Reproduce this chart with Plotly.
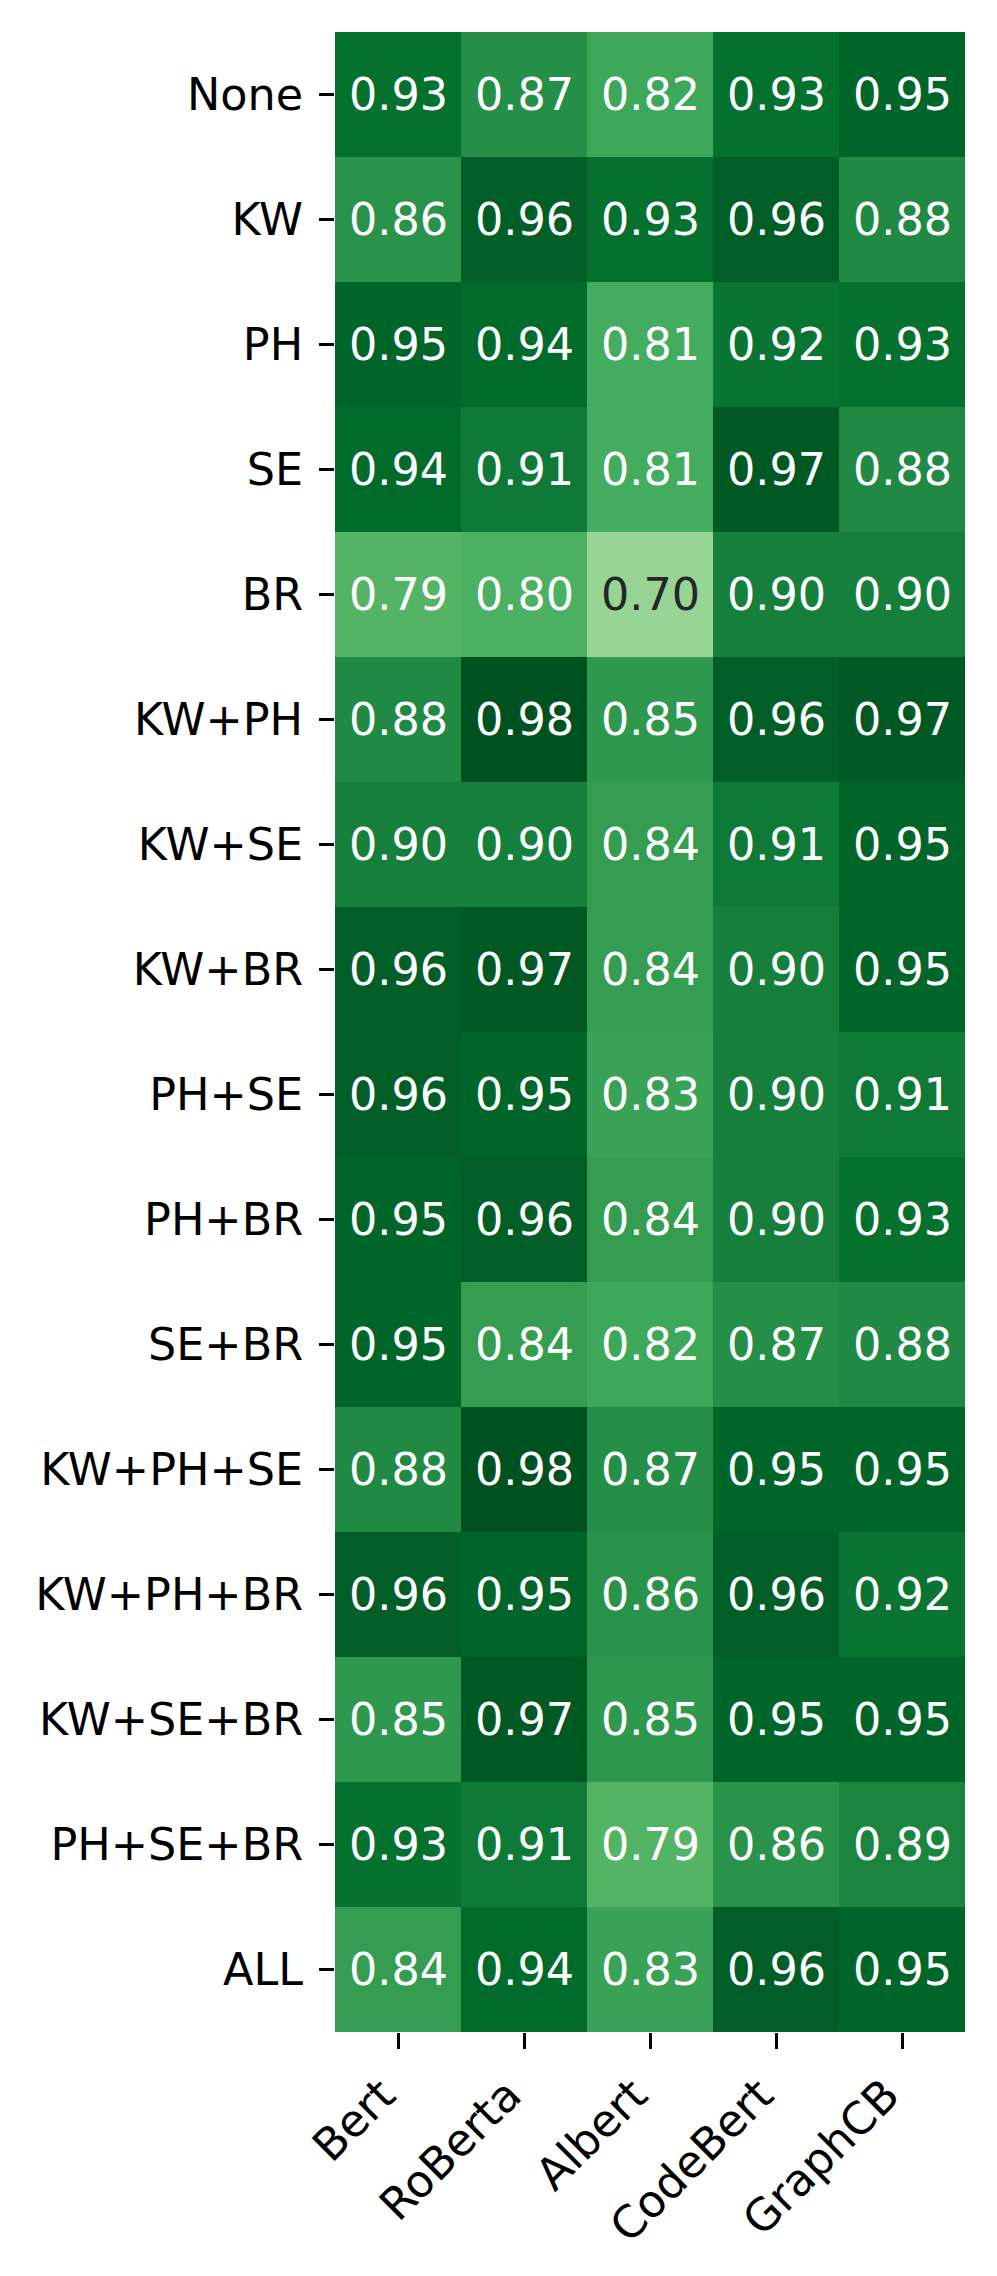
import plotly.graph_objects as go

models = ["Bert", "RoBerta", "Albert", "CodeBert", "GraphCB"]
features = ["None", "KW", "PH", "SE", "BR", "KW+PH", "KW+SE", "KW+BR", "PH+SE",
            "PH+BR", "SE+BR", "KW+PH+SE", "KW+PH+BR", "KW+SE+BR", "PH+SE+BR", "ALL"]
scores = [
    [0.93, 0.87, 0.82, 0.93, 0.95],
    [0.86, 0.96, 0.93, 0.96, 0.88],
    [0.95, 0.94, 0.81, 0.92, 0.93],
    [0.94, 0.91, 0.81, 0.97, 0.88],
    [0.79, 0.80, 0.70, 0.90, 0.90],
    [0.88, 0.98, 0.85, 0.96, 0.97],
    [0.90, 0.90, 0.84, 0.91, 0.95],
    [0.96, 0.97, 0.84, 0.90, 0.95],
    [0.96, 0.95, 0.83, 0.90, 0.91],
    [0.95, 0.96, 0.84, 0.90, 0.93],
    [0.95, 0.84, 0.82, 0.87, 0.88],
    [0.88, 0.98, 0.87, 0.95, 0.95],
    [0.96, 0.95, 0.86, 0.96, 0.92],
    [0.85, 0.97, 0.85, 0.95, 0.95],
    [0.93, 0.91, 0.79, 0.86, 0.89],
    [0.84, 0.94, 0.83, 0.96, 0.95],
]

greens = ['#f7fcf5', '#e5f5e0', '#c7e9c0', '#a1d99b', '#74c476',
          '#41ab5d', '#238b45', '#006d2c', '#00441b']
colorscale = [[i / (len(greens) - 1), c] for i, c in enumerate(greens)]
ZMIN, ZMAX = 0.5, 1.0

FONT = "DejaVu Sans"
FS = 44.5

fig = go.Figure(go.Heatmap(
    z=scores, x=models, y=features,
    colorscale=colorscale, zmin=ZMIN, zmax=ZMAX,
    showscale=False, xgap=0, ygap=0, hoverinfo="skip",
))

annotations = []
for i, f in enumerate(features):
    for j, m in enumerate(models):
        v = scores[i][j]
        t = (v - ZMIN) / (ZMAX - ZMIN)
        color = "#262626" if t < 0.45 else "white"
        annotations.append(dict(x=m, y=f, text=f"{v:.2f}", showarrow=False,
                                font=dict(family=FONT, size=FS, color=color)))

# page body has an 8px default margin; compensate so the plot lands where intended
fig.update_layout(
    width=989, height=2268,
    margin=dict(l=327, r=32, t=24, b=244),
    paper_bgcolor="white", plot_bgcolor="white",
    font=dict(family=FONT, size=FS, color="black"),
    annotations=annotations,
)
fig.update_xaxes(ticks="outside", ticklen=16, tickwidth=2.7, tickcolor="black",
                 tickangle=-45, showgrid=False, zeroline=False, showline=False,
                 automargin=False, ticklabelshift=-16, ticklabelstandoff=2,
                 tickfont=dict(family=FONT, size=FS, color="black"))
fig.update_yaxes(ticks="outside", ticklen=15, tickwidth=2.7, tickcolor="black",
                 autorange="reversed", showgrid=False, zeroline=False, showline=False,
                 automargin=False, ticklabelstandoff=7,
                 tickfont=dict(family=FONT, size=FS, color="black"))

fig.write_html("out.html")
